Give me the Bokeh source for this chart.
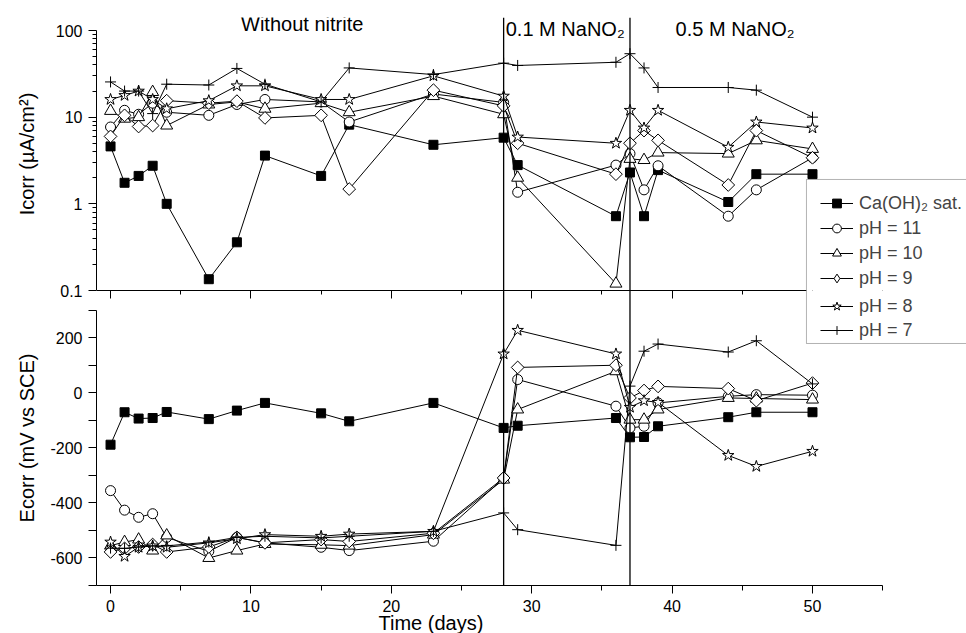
import math
from bokeh.plotting import figure
from bokeh.layouts import column
from bokeh.models import (Range1d, LinearAxis, FixedTicker, PrintfTickFormatter,
                          Span, Label, Legend, LegendItem, BoxAnnotation, Title)
from bokeh.embed import file_html
from bokeh.resources import INLINE

# ---------------- data ----------------
days = [0, 1, 2, 3, 4, 7, 9, 11, 15, 17, 23, 28, 29, 36, 37, 38, 39, 44, 46, 50]
nitrite_days = [28, 37]
series_labels = ["Ca(OH)\u2082 sat.", "pH = 11", "pH = 10", "pH = 9", "pH = 8", "pH = 7"]

icorr_caoh2 = [4.6, 1.75, 2.1, 2.75, 1.0, 0.135, 0.36, 3.6, 2.1, 8.2, 4.8, 5.8, 2.8, 0.72, 2.3, 0.72, 2.45, 1.05, 2.2, 2.2]
icorr_ph11 = [7.7, 12.0, 10.8, 14.5, 11.4, 10.5, 14.0, 16.0, 15.0, 8.8, 18.5, 14.8, 1.36, 2.8, 3.8, 1.45, 2.75, 0.72, 1.45, 3.4]
icorr_ph10 = [11.8, 9.6, 10.0, 19.5, 8.0, 14.0, 15.0, 12.5, 14.5, 11.4, 17.5, 10.8, 2.0, 0.12, 3.3, 3.2, 3.9, 3.8, 5.4, 4.3]
icorr_ph9 = [6.0, 10.5, 7.8, 8.0, 15.5, 14.5, 15.3, 9.8, 10.5, 1.48, 20.5, 13.5, 5.0, 2.2, 5.0, 7.0, 5.4, 1.65, 7.0, 3.4]
icorr_ph8 = [16.0, 17.8, 20.0, 16.0, 12.5, 15.5, 23.0, 23.0, 16.0, 16.0, 30.0, 17.5, 5.9, 5.0, 12.0, 7.5, 12.0, 4.5, 8.8, 7.5]
icorr_ph7 = [25.5, 20.0, 20.0, 11.0, 24.0, 23.5, 36.5, 24.0, 15.0, 37.0, 31.0, 42.0, 39.5, 43.0, 54.0, 37.0, 22.0, 22.0, 20.5, 10.0]

ecorr_caoh2 = [-188, -70, -93, -91, -69, -95, -64, -36, -74, -103, -36, -127, -119, -91, -161, -160, -121, -88, -70, -70]
ecorr_ph11 = [-355, -426, -452, -439, -525, -576, -525, -545, -561, -573, -539, -310, 49, -48, -127, -121, -36, -12, -6, -8]
ecorr_ph10 = [-555, -542, -533, -573, -518, -600, -573, -549, -552, -555, -515, -315, -60, 79, -97, -97, -60, -18, -20, -24]
ecorr_ph9 = [-578, -565, -560, -551, -578, -560, -525, -545, -533, -540, -510, -309, 93, 101, -18, 9, 24, 16, -28, 36]
ecorr_ph8 = [-542, -594, -561, -556, -561, -545, -530, -515, -521, -513, -503, 142, 228, 142, -52, -28, -34, -227, -267, -212]
ecorr_ph7 = [-564, -565, -560, -556, -556, -542, -525, -521, -527, -521, -503, -436, -497, -554, 25, 152, 178, 149, 190, 33]

icorr_series = [icorr_caoh2, icorr_ph11, icorr_ph10, icorr_ph9, icorr_ph8, icorr_ph7]
ecorr_series = [ecorr_caoh2, ecorr_ph11, ecorr_ph10, ecorr_ph9, ecorr_ph8, ecorr_ph7]

x_major = [0, 10, 20, 30, 40, 50]
x_minor = [5, 15, 25, 35, 45, 55]
icorr_major = [0.1, 1, 10, 100]
icorr_minor = [m * d for d in (0.1, 1, 10) for m in range(2, 10)]
ecorr_major = [-600, -400, -200, 0, 200]
ecorr_minor = [-700, -500, -300, -100, 100, 300]

# ---------------- styles ----------------
FONT = "Liberation Sans"
markers = [
    dict(marker="square", size=9, fill_color="black", angle=0),
    dict(marker="circle", size=10, fill_color="white", angle=0),
    dict(marker="triangle", size=12, fill_color="white", angle=0),
    dict(marker="square", size=9, fill_color="white", angle=math.pi / 4),
    dict(marker="star", size=12, fill_color="white", angle=0),
    dict(marker="cross", size=11, fill_color="white", angle=0),
]
X_RANGE = (-1, 60.97)
LEG_LEFT = 49.57  # legend box left edge, in days


def style_axis(ax, tick_out=8, minor_out=5):
    ax.axis_line_color = "black"
    ax.axis_line_width = 1
    ax.major_tick_line_color = "black"
    ax.minor_tick_line_color = "black"
    ax.major_tick_in = 0
    ax.major_tick_out = tick_out
    ax.minor_tick_in = 0
    ax.minor_tick_out = minor_out
    ax.major_label_text_font = FONT
    ax.major_label_text_font_size = "16px"
    ax.major_label_text_color = "black"
    ax.major_label_standoff = 6
    ax.axis_label_text_font = FONT
    ax.axis_label_text_font_size = "20px"
    ax.axis_label_text_font_style = "normal"
    ax.axis_label_text_color = "black"


def base_fig(height, y_range, y_axis_type, top, bottom):
    f = figure(width=966, height=height, x_range=Range1d(*X_RANGE), y_range=y_range,
               y_axis_type=y_axis_type, output_backend="svg", toolbar_location=None,
               title=None, min_border_left=96, min_border_right=0,
               min_border_top=top, min_border_bottom=bottom)
    f.xgrid.visible = False
    f.ygrid.visible = False
    f.outline_line_color = None
    f.border_fill_alpha = 0.0
    for d in nitrite_days:
        f.add_layout(Span(location=d, dimension="height", line_color="black", line_width=1.3))
    return f


# ---------------- upper panel: Icorr ----------------
p1 = base_fig(300, Range1d(0.1, 10 ** 2.15), "log", 17, 10)
p1.xaxis.visible = False
ya1 = p1.yaxis[0]
ya1.bounds = (0.1, 100)
ya1.ticker = FixedTicker(ticks=icorr_major, minor_ticks=icorr_minor)
ya1.formatter = PrintfTickFormatter(format="%g")
style_axis(ya1, tick_out=8, minor_out=4)
ya1.axis_label = "Icorr (\u00b5A/cm\u00b2)"
ya1.axis_label_standoff = 15

# ---------------- lower panel: Ecorr ----------------
p2 = base_fig(343, Range1d(-700, 372.7), "linear", 0, 48)
p2.margin = (-10, 0, 0, 0)  # overlap the upper panel's bottom border (room for "0.1")
xa = p2.xaxis[0]
xa.bounds = (-1, 55)
xa.ticker = FixedTicker(ticks=x_major, minor_ticks=x_minor)
style_axis(xa)
ya2 = p2.yaxis[0]
ya2.bounds = (-700, 300)
ya2.ticker = FixedTicker(ticks=ecorr_major, minor_ticks=ecorr_minor)
ya2.formatter = PrintfTickFormatter(format="%d")
style_axis(ya2, tick_out=8, minor_out=8)
ya2.axis_label = "Ecorr (mV vs SCE)"
ya2.axis_label_standoff = 9

# shared time axis line between the panels (ticks pointing down)
ma = LinearAxis(bounds=(-1, LEG_LEFT),
                ticker=FixedTicker(ticks=x_major, minor_ticks=x_minor))
ma.axis_line_color = "black"
ma.major_tick_line_color = "black"
ma.minor_tick_line_color = "black"
ma.major_tick_out = 0
ma.major_tick_in = 8
ma.minor_tick_out = 0
ma.minor_tick_in = 4
ma.major_label_text_font_size = "0px"
ma.major_label_text_color = None
ma.major_label_standoff = 0
p2.add_layout(ma, "above")

p2.add_layout(Title(text="Time (days)", align="left", offset=282, standoff=-10,
                    text_font=FONT, text_font_size="20px", text_font_style="normal",
                    text_color="black"), "below")

# ---------------- series ----------------
top_items, bottom_items = [], []
for i, (lab, ic, ec, mk) in enumerate(zip(series_labels, icorr_series, ecorr_series, markers)):
    sc = dict(marker=mk["marker"], size=mk["size"], angle=mk["angle"],
              fill_color=mk["fill_color"], line_color="black", line_width=1)
    l1 = p1.line(days, ic, line_color="black", line_width=1)
    s1 = p1.scatter(days, ic, **sc)
    l2 = p2.line(days, ec, line_color="black", line_width=1)
    s2 = p2.scatter(days, ec, **sc)
    if mk["angle"]:
        # legend glyphs are drawn unrotated: use a (hidden) diamond renderer for the key
        fig, src_y = (p1, ic) if i < 4 else (p2, ec)
        proxy = fig.scatter(days, src_y, marker="diamond", size=13, fill_color="white",
                            line_color="black", line_width=1, visible=False)
        rs = [l1 if i < 4 else l2, proxy]
    else:
        rs = [l1, s1] if i < 4 else [l2, s2]
    (top_items if i < 4 else bottom_items).append(LegendItem(label=lab, renderers=rs))

# ---------------- legend (box spans both panels) ----------------
box_style = dict(fill_color="white", fill_alpha=1.0, line_color="black", line_width=1)
p1.add_layout(BoxAnnotation(left=LEG_LEFT, right=80, top=10 ** 0.281, bottom=0.001, **box_style))
p2.add_layout(BoxAnnotation(left=LEG_LEFT, right=80, top=5000, bottom=180, **box_style))

leg_style = dict(label_text_font=FONT, label_text_font_size="18px", glyph_width=33,
                 glyph_height=22, label_height=22, label_standoff=6, padding=0,
                 margin=0, border_line_color=None, background_fill_alpha=0.0)
p1.add_layout(Legend(items=top_items, location=(724, 1), spacing=3, **leg_style), "center")
p2.add_layout(Legend(items=bottom_items, location=(724, 244), spacing=2, **leg_style), "center")

# ---------------- region texts ----------------
txt = dict(text_font=FONT, text_font_size="20px", text_color="black", text_baseline="middle")
p1.add_layout(Label(x=13.65, y=10 ** (2 + 7 / 86.67), text="Without nitrite",
                    text_align="center", **txt))
p1.add_layout(Label(x=28.15, y=10 ** (2 + 2 / 86.67), text="0.1 M NaNO\u2082",
                    text_align="left", **txt))
p1.add_layout(Label(x=40.25, y=10 ** (2 + 2 / 86.67), text="0.5 M NaNO\u2082",
                    text_align="left", **txt))

layout = column(p1, p2)
open("out.html", "w").write(file_html(layout, INLINE))
